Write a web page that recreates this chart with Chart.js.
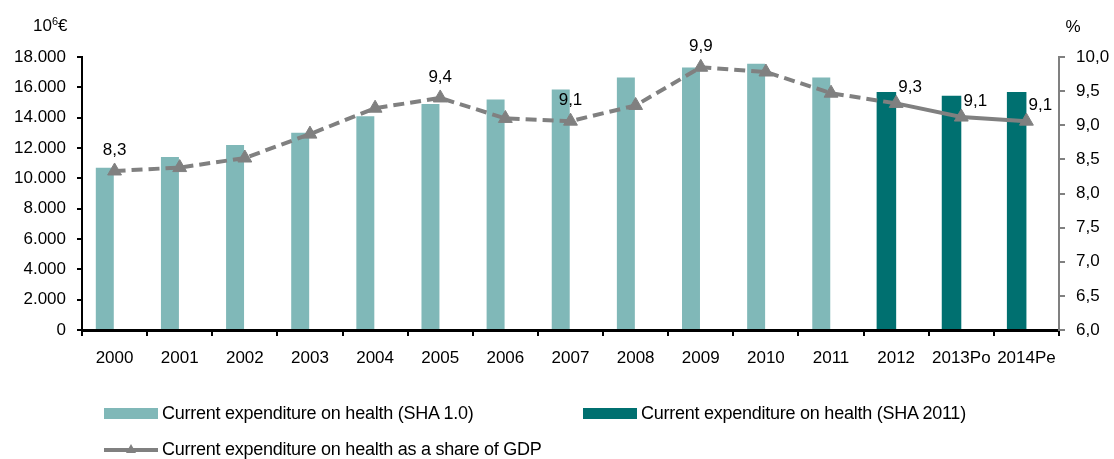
<!DOCTYPE html>
<html>
<head>
<meta charset="utf-8">
<script src="https://cdn.jsdelivr.net/npm/chart.js@4/dist/chart.umd.min.js"></script>
<style>
  body { margin: 0; background: #fff; }
  #wrap { position: relative; width: 1114px; height: 459px; font-family: "Liberation Sans", Arial, sans-serif; }
  #chart { position: absolute; left: 0; top: 0; }
  .legend-item { position: absolute; display: flex; align-items: center; height: 20px; font-size: 18px; letter-spacing: -0.25px; color: #000; white-space: nowrap; }
  .swatch { width: 54px; height: 11px; margin-right: 4px; }
  .line-swatch { position: relative; width: 54px; height: 12px; margin-right: 4px; }
  .line-swatch::before { content: ""; position: absolute; left: 0; right: 0; top: 5px; height: 4px; background: #808080; }
  .line-swatch::after { content: ""; position: absolute; left: 22px; top: 1px; border-left: 5px solid transparent; border-right: 5px solid transparent; border-bottom: 9px solid #808080; }
</style>
</head>
<body>
<div id="wrap">
  <canvas id="chart" width="1114" height="459"></canvas>
  <div id="legend"></div>
</div>
<script>
Chart.defaults.font.family = "'Liberation Sans', Arial, sans-serif";
Chart.defaults.font.size = 17;
Chart.defaults.color = "#000";

const YEARS = ["2000", "2001", "2002", "2003", "2004", "2005", "2006", "2007", "2008", "2009", "2010", "2011", "2012", "2013Po", "2014Pe"];

// million euro
const SHA10 = [10700, 11400, 12200, 13000, 14100, 14900, 15200, 15850, 16650, 17300, 17550, 16650, null, null, null];
const SHA2011 = [null, null, null, null, null, null, null, null, null, null, null, null, 15700, 15450, 15700];

// % of GDP
const GDP_SHARE = [8.33, 8.38, 8.52, 8.87, 9.25, 9.40, 9.10, 9.06, 9.29, 9.85, 9.78, 9.47, 9.32, 9.12, 9.06];
const GDP_LABELS = ["8,3", null, null, null, null, "9,4", null, "9,1", null, "9,9", null, null, "9,3", "9,1", "9,1"];

const SERIES_NAMES = [
  "Current expenditure on health (SHA 1.0)",
  "Current expenditure on health (SHA 2011)",
  "Current expenditure on health as a share of GDP",
];

const LIGHT = "#80B8B8";
const DARK = "#007070";
const GREY = "#808080";

// index where the series switches to SHA 2011 (line becomes solid)
const SHA2011_START = 12;

const fmtThousands = (v) => v === 0 ? "0" : v.toLocaleString("de-DE");
const fmtPct = (v) => v.toFixed(1).replace(".", ",");

// data labels and the two unit titles
const labelsPlugin = {
  id: "pointLabels",
  afterDatasetsDraw(chart) {
    const { ctx, chartArea } = chart;
    const meta = chart.getDatasetMeta(3);
    ctx.save();
    ctx.fillStyle = "#000";
    ctx.font = "17px 'Liberation Sans', Arial, sans-serif";
    ctx.textAlign = "center";
    ctx.textBaseline = "middle";
    meta.data.forEach((pt, i) => {
      const txt = GDP_LABELS[i];
      if (!txt) return;
      if (i >= SHA2011_START) {
        ctx.fillText(txt, pt.x + 14, pt.y - 16);
      } else {
        ctx.fillText(txt, pt.x, pt.y - 21);
      }
    });

    // 10^6 € title
    ctx.textAlign = "left";
    ctx.textBaseline = "alphabetic";
    const x0 = chartArea.left - 49;
    const base = chartArea.top - 26;
    ctx.font = "17px 'Liberation Sans', Arial, sans-serif";
    ctx.fillText("10", x0, base);
    let w = ctx.measureText("10").width;
    ctx.font = "11px 'Liberation Sans', Arial, sans-serif";
    ctx.fillText("6", x0 + w, base - 6);
    w += ctx.measureText("6").width;
    ctx.font = "17px 'Liberation Sans', Arial, sans-serif";
    ctx.fillText("€", x0 + w, base);

    ctx.textAlign = "center";
    ctx.fillText("%", chartArea.right + 14, chartArea.top - 25);
    ctx.restore();
  },
};

const ctx = document.getElementById("chart");

new Chart(ctx, {
  data: {
    labels: YEARS,
    datasets: [
      {
        type: "bar",
        label: SERIES_NAMES[0],
        data: SHA10,
        backgroundColor: LIGHT,
        stack: "a",
        barPercentage: 0.92,
        categoryPercentage: 0.6,
        yAxisID: "y",
        order: 1,
      },
      {
        type: "bar",
        label: SERIES_NAMES[1],
        data: SHA2011,
        backgroundColor: DARK,
        stack: "a",
        barPercentage: 1.0,
        categoryPercentage: 0.6,
        yAxisID: "y",
        order: 1,
      },
      {
        // empty slot so the bars sit left of the category centre
        type: "bar",
        label: "",
        data: YEARS.map(() => null),
        stack: "b",
        categoryPercentage: 0.6,
        yAxisID: "y",
        order: 1,
      },
      {
        type: "line",
        label: SERIES_NAMES[2],
        data: GDP_SHARE,
        yAxisID: "y1",
        borderColor: GREY,
        borderWidth: 4,
        borderDash: [11, 6],
        segment: {
          borderDash: (c) => (c.p0DataIndex >= SHA2011_START ? [] : [11, 6]),
        },
        pointStyle: "triangle",
        pointRadius: 8,
        pointBackgroundColor: GREY,
        pointBorderColor: GREY,
        pointBorderWidth: 1,
        tension: 0,
        order: 0,
      },
    ],
  },
  options: {
    responsive: false,
    animation: false,
    layout: {
      padding: { top: 57, bottom: 89, left: 0, right: 0 },
    },
    plugins: {
      legend: { display: false },
      tooltip: { enabled: false },
    },
    scales: {
      x: {
        grid: {
          offset: true,
          drawOnChartArea: false,
          drawTicks: true,
          tickLength: 6,
          color: "#000",
          lineWidth: 2,
        },
        border: { display: true, color: "#000", width: 3 },
        ticks: { padding: 12, maxRotation: 0, autoSkip: false },
        afterFit: (s) => { s.height = 40; },
      },
      y: {
        position: "left",
        min: 0,
        max: 18000,
        grid: {
          drawOnChartArea: false,
          drawTicks: true,
          tickLength: 5,
          color: "#000",
          lineWidth: 2,
        },
        border: { display: true, color: "#000", width: 2 },
        ticks: {
          stepSize: 2000,
          padding: 11,
          callback: (v) => fmtThousands(v),
        },
        afterFit: (s) => { s.width = 82; },
      },
      y1: {
        position: "right",
        min: 6,
        max: 10,
        grid: {
          drawOnChartArea: false,
          drawTicks: true,
          tickLength: 6,
          color: GREY,
          lineWidth: 2,
        },
        border: { display: true, color: GREY, width: 2 },
        ticks: {
          stepSize: 0.5,
          padding: 11,
          callback: (v) => fmtPct(v),
        },
        afterFit: (s) => { s.width = 55; },
      },
    },
  },
  plugins: [labelsPlugin],
});

// html legend laid out like the original
const legend = document.getElementById("legend");
const legendItems = [
  { name: SERIES_NAMES[0], kind: "box", color: LIGHT, left: 104, top: 403 },
  { name: SERIES_NAMES[1], kind: "box", color: DARK, left: 583, top: 403 },
  { name: SERIES_NAMES[2], kind: "line", color: GREY, left: 104, top: 439 },
];
legendItems.forEach((item) => {
  const el = document.createElement("div");
  el.className = "legend-item";
  el.style.left = item.left + "px";
  el.style.top = item.top + "px";
  const sym = document.createElement("span");
  if (item.kind === "box") {
    sym.className = "swatch";
    sym.style.background = item.color;
  } else {
    sym.className = "line-swatch";
  }
  const txt = document.createElement("span");
  txt.textContent = item.name;
  el.appendChild(sym);
  el.appendChild(txt);
  legend.appendChild(el);
});
</script>
</body>
</html>
